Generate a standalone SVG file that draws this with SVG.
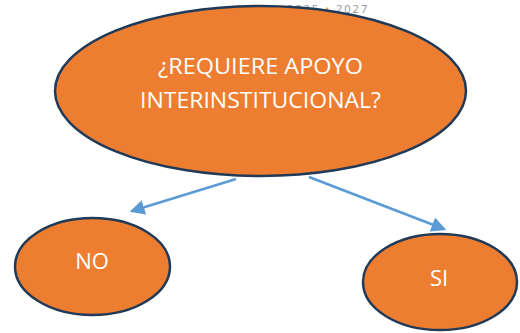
<svg xmlns="http://www.w3.org/2000/svg" width="520" height="333" viewBox="0 0 520 333">
<style>
.node{fill:#ED7D31;stroke:#203A58;stroke-width:2.5}
.lbl{font-family:"Open Sans","Liberation Sans",sans-serif;fill:#FFFFFF;text-anchor:middle}
.conn{stroke:#5B9BD5;stroke-width:2.5;fill:none}
.hdr{font-family:"Open Sans","Liberation Sans",sans-serif;font-size:11px;fill:#8A939C;letter-spacing:2px}
</style>
<defs>
<marker id="ah" markerWidth="6" markerHeight="6" refX="5" refY="3" orient="auto" markerUnits="strokeWidth">
<path d="M0,0 L6,3 L0,6 Z" fill="#5B9BD5"/>
</marker>
</defs>
<text class="hdr" x="287" y="13">2025 <tspan fill="#F0A030">•</tspan> 2027</text>
<g id="question">
<ellipse class="node" cx="260.5" cy="91" rx="205.5" ry="85"/>
<text class="lbl" x="260.5" y="74" font-size="22" textLength="205" lengthAdjust="spacingAndGlyphs">¿REQUIERE APOYO</text>
<text class="lbl" x="260.5" y="108" font-size="22" textLength="241" lengthAdjust="spacingAndGlyphs">INTERINSTITUCIONAL?</text>
</g>
<g id="no">
<ellipse class="node" cx="92.5" cy="266.5" rx="77.5" ry="48.5"/>
<text class="lbl" x="92" y="269" font-size="22">NO</text>
</g>
<g id="si">
<ellipse class="node" cx="440" cy="282" rx="77" ry="48"/>
<text class="lbl" x="439" y="286" font-size="22">SI</text>
</g>
<g id="connectors">
<line class="conn" x1="236" y1="179" x2="132" y2="211" marker-end="url(#ah)"/>
<line class="conn" x1="309" y1="177" x2="444" y2="229" marker-end="url(#ah)"/>
</g>
</svg>
